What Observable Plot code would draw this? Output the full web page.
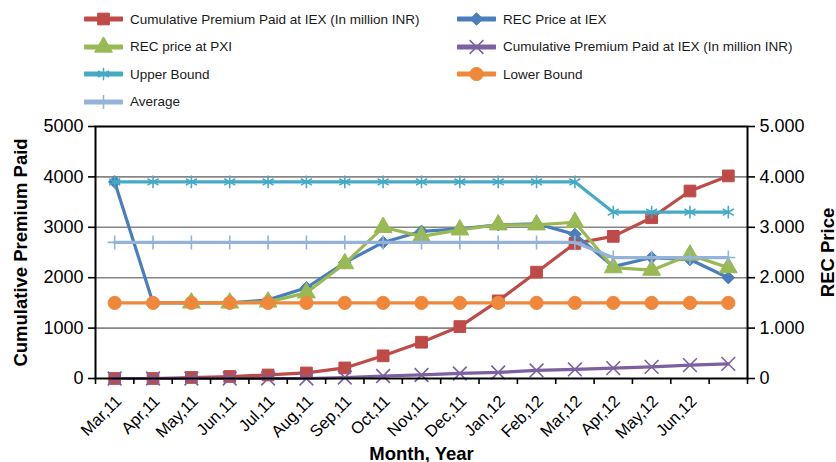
<!DOCTYPE html>
<html>
<head>
<meta charset="utf-8">
<script src="https://cdn.jsdelivr.net/npm/d3@7"></script>
<script src="https://cdn.jsdelivr.net/npm/@observablehq/plot@0.6"></script>
<style>
  body { margin: 0; background: #fff; font-family: "Liberation Sans", Arial, sans-serif; }
  #chart { position: relative; width: 836px; height: 462px; overflow: hidden; }
  #legend { position: relative; width: 836px; height: 115px; }
  .item { position: absolute; display: flex; align-items: center; height: 20px; font-size: 13.5px; color: #1a1a1a; white-space: nowrap; }
  .item svg { margin-right: 7px; }
  #plot svg { display: block; }
  #plot g[aria-label="y-axis label"] text,
  #plot g[aria-label="x-axis label"] text { font-weight: bold; font-size: 18.5px; fill: #000; }
</style>
</head>
<body>
<div id="chart">
  <div id="legend"></div>
  <div id="plot"></div>
</div>
<script>
// Month categories (the last slot carries no label)
const months = ["Mar,11", "Apr,11", "May,11", "Jun,11", "Jul,11", "Aug,11", "Sep,11", "Oct,11",
  "Nov,11", "Dec,11", "Jan,12", "Feb,12", "Mar,12", "Apr,12", "May,12", "Jun,12", ""];

// Left axis series (million INR)
const premiumIEX = [0, 0, 20, 40, 70, 110, 210, 450, 720, 1030, 1540, 2110, 2680, 2820, 3190, 3720, 4020];
const premiumIEX2 = [0, 0, 0, 0, 0, 0, 20, 50, 70, 100, 120, 160, 180, 205, 230, 265, 290];

// Right axis series (REC price)
const recIEX = [3.9, 1.5, 1.5, 1.5, 1.56, 1.8, 2.3, 2.7, 2.92, 2.97, 3.05, 3.07, 2.86, 2.22, 2.4, 2.36, 2.0];
const recPXI = [null, null, 1.5, 1.5, 1.52, 1.7, 2.28, 3.0, 2.82, 2.95, 3.05, 3.05, 3.1, 2.2, 2.15, 2.45, 2.2];
const upperBound = [3.9, 3.9, 3.9, 3.9, 3.9, 3.9, 3.9, 3.9, 3.9, 3.9, 3.9, 3.9, 3.9, 3.3, 3.3, 3.3, 3.3];
const lowerBound = [1.5, 1.5, 1.5, 1.5, 1.5, 1.5, 1.5, 1.5, 1.5, 1.5, 1.5, 1.5, 1.5, 1.5, 1.5, 1.5, 1.5];
const average = [2.7, 2.7, 2.7, 2.7, 2.7, 2.7, 2.7, 2.7, 2.7, 2.7, 2.7, 2.7, 2.7, 2.4, 2.4, 2.4, 2.4];

// Axis ticks
const leftTicks = [0, 1000, 2000, 3000, 4000, 5000];
const rightTicks = [0, 1, 2, 3, 4, 5];
const rightToLeft = 1000; // right axis 0–5 aligns with left axis 0–5000

const series = [
  {name: "Cumulative Premium Paid at IEX (In million INR)", values: premiumIEX, axis: "left",
   color: "#BE4B48", symbol: "square", r: 6.6, filled: true},
  {name: "REC Price at IEX", values: recIEX, axis: "right",
   color: "#4A7EBB", symbol: "diamond2", r: 5.6, filled: true},
  {name: "REC price at PXI", values: recPXI, axis: "right",
   color: "#98B954", symbol: "triangle", r: 6.6, filled: true},
  {name: "Cumulative Premium Paid at IEX (In million INR)", values: premiumIEX2, axis: "left",
   color: "#7D60A0", symbol: "times", r: 6.3, filled: false},
  {name: "Upper Bound", values: upperBound, axis: "right",
   color: "#46AAC5", symbol: "asterisk", r: 6, filled: false},
  {name: "Lower Bound", values: lowerBound, axis: "right",
   color: "#F0883C", symbol: "circle", r: 6.6, filled: true},
  {name: "Average", values: average, axis: "right",
   color: "#94B3D6", symbol: "plus", r: 4.6, filled: false}
];

// Legend: two columns, filled row by row
const legend = d3.select("#legend");
const symbolTypes = {
  square: d3.symbolSquare, diamond2: d3.symbolDiamond2, triangle: d3.symbolTriangle,
  times: d3.symbolTimes, asterisk: d3.symbolAsterisk, circle: d3.symbolCircle, plus: d3.symbolPlus
};
const colLeft = [84, 457];
const rowCenter = [19, 46.5, 74, 101.5];
series.forEach((s, k) => {
  const item = legend.append("div").attr("class", "item")
    .style("left", colLeft[k % 2] + "px")
    .style("top", (rowCenter[Math.floor(k / 2)] - 10) + "px");
  const sw = item.append("svg").attr("width", 39).attr("height", 20);
  sw.append("line").attr("x1", 1).attr("x2", 38).attr("y1", 10).attr("y2", 10)
    .attr("stroke", s.color).attr("stroke-width", 5).attr("stroke-linecap", "round");
  sw.append("path")
    .attr("transform", "translate(19.5,10)")
    .attr("d", d3.symbol(symbolTypes[s.symbol], Math.PI * s.r * s.r)())
    .attr("fill", s.filled ? s.color : "none")
    .attr("stroke", s.color)
    .attr("stroke-width", s.filled ? 1 : 1.5);
  item.append("span").text(s.name);
});

// Long-format rows for every series, scaled onto the left axis units
const marks = [
  Plot.gridY(leftTicks.slice(1, -1), {stroke: "#868686", strokeOpacity: 1, strokeWidth: 1.6})
];
series.forEach((s) => {
  const k = s.axis === "right" ? rightToLeft : 1;
  const rows = s.values
    .map((v, i) => ({i, v: v == null ? null : v * k}))
    .filter((d) => d.v != null);
  marks.push(Plot.line(rows, {x: "i", y: "v", stroke: s.color, strokeWidth: 3.2}));
  marks.push(Plot.dot(rows, {
    x: "i", y: "v", symbol: s.symbol, r: s.r,
    fill: s.filled ? s.color : "none",
    stroke: s.color, strokeWidth: s.filled ? 1 : 1.6
  }));
});

// Category boundaries carry the tick marks on the bottom axis
const boundaries = d3.range(months.length + 1).map((i) => i - 0.5);
const labelled = d3.range(months.length).filter((i) => months[i] !== "");

marks.push(
  Plot.frame({stroke: "#000", strokeWidth: 2}),
  Plot.axisY(leftTicks, {
    anchor: "left", tickSize: 7, tickPadding: 5, fontSize: 18,
    tickFormat: (d) => String(d),
    label: "Cumulative Premium Paid", labelAnchor: "center", labelOffset: 82, labelArrow: "none",
    stroke: "#000", strokeWidth: 1.6
  }),
  Plot.axisY(rightTicks.map((d) => d * rightToLeft), {
    anchor: "right", tickSize: 7, tickPadding: 5, fontSize: 18,
    tickFormat: (d) => d === 0 ? "0" : (d / rightToLeft).toFixed(3),
    label: "REC Price", labelAnchor: "center", labelOffset: 86, labelArrow: "none",
    stroke: "#000", strokeWidth: 1.6
  }),
  Plot.axisX(boundaries, {
    anchor: "bottom", tickSize: 6, tickFormat: () => "", label: null,
    stroke: "#000", strokeWidth: 1.6
  }),
  Plot.axisX(labelled, {
    anchor: "bottom", tickSize: 0, tickPadding: 20, tickRotate: -45, fontSize: 16.5,
    tickFormat: (i) => months[i], dx: 4,
    label: "Month, Year", labelAnchor: "center", labelOffset: 81, labelArrow: "none"
  })
);

const chart = Plot.plot({
  width: 836,
  height: 347,
  marginLeft: 95,
  marginRight: 89,
  marginTop: 11,
  marginBottom: 84,
  style: {fontFamily: "'Liberation Sans', Arial, sans-serif", color: "#000", background: "#fff"},
  x: {type: "linear", domain: [-0.5, months.length - 0.5]},
  y: {domain: [0, 5000]},
  marks
});
document.getElementById("plot").appendChild(chart);
</script>
</body>
</html>
